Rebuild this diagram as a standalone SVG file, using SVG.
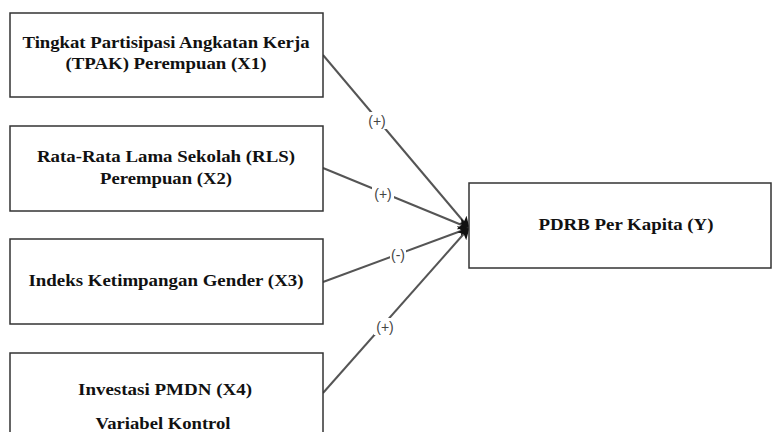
<svg xmlns="http://www.w3.org/2000/svg" width="772" height="432" viewBox="0 0 772 432">
<defs>
<marker id="arr" markerWidth="12" markerHeight="12" refX="11" refY="6" orient="auto" markerUnits="userSpaceOnUse">
<path d="M0,0 L12,6 L0,12 L3,6 Z" fill="#111"/>
</marker>
<style>
.box{fill:#fff;stroke:#333;stroke-width:1.5}
.t{font-family:"Liberation Serif","Times New Roman",serif;font-weight:bold;font-size:16.5px;fill:#111;text-anchor:middle}
.c{stroke:#555;stroke-width:2;fill:none;marker-end:url(#arr)}
.lbl{font-family:"Liberation Sans",Arial,sans-serif;font-size:14px;fill:#444;text-anchor:middle}
.lb{fill:#fff}
</style>
</defs>
<rect width="772" height="432" fill="#fff"/>
<g id="connectors">
<line class="c" x1="323" y1="55" x2="469" y2="228"/>
<line class="c" x1="323" y1="168" x2="469" y2="228"/>
<line class="c" x1="323" y1="282" x2="469" y2="228"/>
<line class="c" x1="323" y1="393" x2="469" y2="228"/>
<rect class="lb" x="366" y="112" width="22" height="17"/>
<text class="lbl" x="377" y="126">(+)</text>
<rect class="lb" x="372" y="185" width="22" height="17"/>
<text class="lbl" x="383" y="199">(+)</text>
<rect class="lb" x="390" y="246" width="16" height="17"/>
<text class="lbl" x="398" y="260">(-)</text>
<rect class="lb" x="374" y="318" width="22" height="17"/>
<text class="lbl" x="385" y="332">(+)</text>
</g>
<g id="x1">
<rect class="box" x="10" y="13" width="313" height="84"/>
<text class="t" x="166" y="48" textLength="287" lengthAdjust="spacingAndGlyphs">Tingkat Partisipasi Angkatan Kerja</text>
<text class="t" x="166" y="69" textLength="201" lengthAdjust="spacingAndGlyphs">(TPAK) Perempuan (X1)</text>
</g>
<g id="x2">
<rect class="box" x="10" y="126" width="313" height="85"/>
<text class="t" x="166" y="162" textLength="258" lengthAdjust="spacingAndGlyphs">Rata-Rata Lama Sekolah (RLS)</text>
<text class="t" x="166" y="184" textLength="132" lengthAdjust="spacingAndGlyphs">Perempuan (X2)</text>
</g>
<g id="x3">
<rect class="box" x="10" y="239" width="313" height="85"/>
<text class="t" x="166" y="286" textLength="275" lengthAdjust="spacingAndGlyphs">Indeks Ketimpangan Gender (X3)</text>
</g>
<g id="x4">
<rect class="box" x="10" y="353" width="313" height="90"/>
<text class="t" x="165" y="395" textLength="174" lengthAdjust="spacingAndGlyphs">Investasi PMDN (X4)</text>
<text class="t" x="163" y="429" textLength="135" lengthAdjust="spacingAndGlyphs">Variabel Kontrol</text>
</g>
<g id="y">
<rect class="box" x="469" y="183" width="302" height="85"/>
<text class="t" x="626" y="230" textLength="175" lengthAdjust="spacingAndGlyphs">PDRB Per Kapita (Y)</text>
</g>
</svg>
